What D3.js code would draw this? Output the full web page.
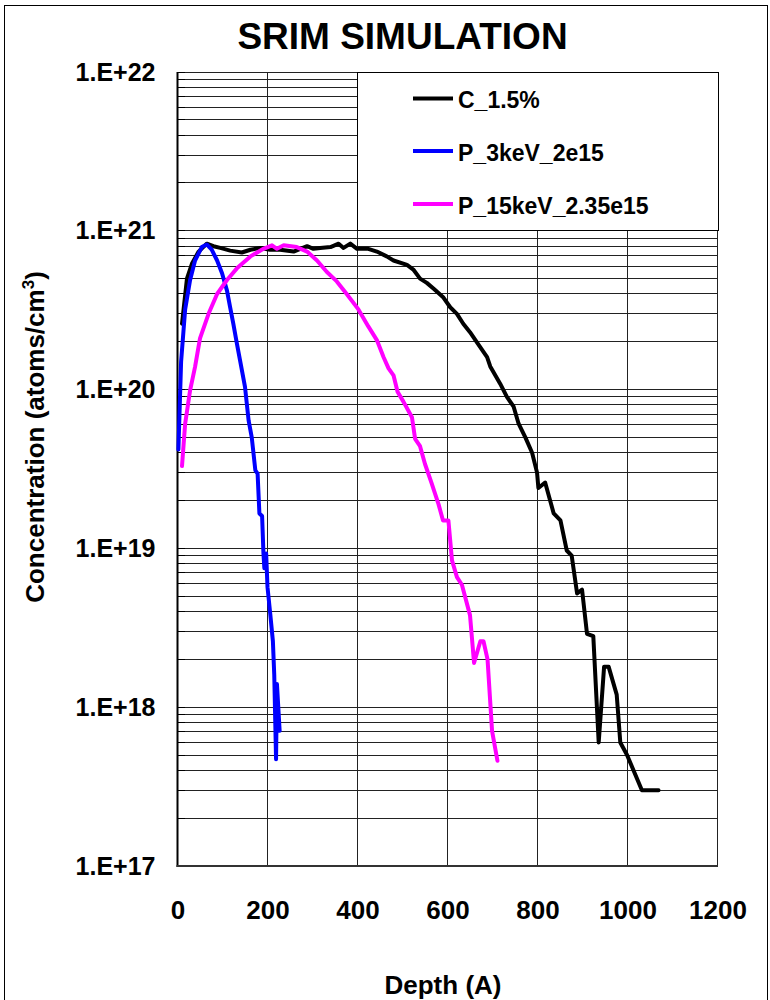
<!DOCTYPE html>
<html>
<head>
<meta charset="utf-8">
<script src="https://cdn.jsdelivr.net/npm/d3@7"></script>
<style>
  body { margin: 0; background: #fff; }
  svg { display: block; }
  text { font-family: Arial, "Liberation Sans", sans-serif; font-weight: bold; fill: #000; }
</style>
</head>
<body>
<svg id="chart" width="770" height="1000"></svg>
<script>
// SRIM depth profiles: depth in Angstrom, concentration in atoms/cm3
const cDepth = [10, 21, 32, 47, 65, 80, 95, 117, 143, 162, 184, 206, 228, 258, 288, 302, 317, 340, 358, 369, 384, 399, 424, 443, 465, 480, 510, 524, 539, 554, 570, 591, 606, 621, 635, 650, 670, 688, 695, 717, 732, 747, 758, 773, 788, 799, 802, 817, 836, 851, 865, 876, 888, 899, 910, 924, 936, 948, 958, 976, 984, 999, 1032, 1069];
const cConc = [2.6e20, 5.0e20, 6.2e20, 7.4e20, 8.3e20, 8.0e20, 7.8e20, 7.5e20, 7.3e20, 7.6e20, 7.8e20, 7.6e20, 7.6e20, 7.4e20, 8.0e20, 7.7e20, 7.8e20, 7.9e20, 8.3e20, 7.8e20, 8.3e20, 7.7e20, 7.7e20, 7.4e20, 6.9e20, 6.5e20, 6.1e20, 5.7e20, 5.0e20, 4.7e20, 4.3e20, 3.8e20, 3.3e20, 3.0e20, 2.6e20, 2.3e20, 1.9e20, 1.6e20, 1.4e20, 1.09e20, 9.0e19, 7.8e19, 6.1e19, 5.0e19, 4.0e19, 3.0e19, 2.4e19, 2.6e19, 1.66e19, 1.5e19, 9.7e18, 9.0e18, 5.2e18, 5.5e18, 2.9e18, 2.8e18, 6.0e17, 1.8e18, 1.8e18, 1.2e18, 6.0e17, 5.0e17, 3.0e17, 3.0e17];

const p3Depth = [2, 8, 17, 28, 39, 54, 65, 76, 88, 99, 110, 117, 124, 132, 139, 150, 158, 165, 173, 178, 182, 188, 191, 193, 197, 200, 206, 212, 215, 219, 221, 227];
const p3Conc = [4.2e19, 1.5e20, 3.2e20, 4.9e20, 6.5e20, 7.9e20, 8.2e20, 7.6e20, 6.5e20, 5.4e20, 4.2e20, 3.3e20, 2.6e20, 1.95e20, 1.53e20, 1.04e20, 6.4e19, 5.0e19, 3.1e19, 2.96e19, 1.66e19, 1.6e19, 9.3e18, 7.5e18, 9.3e18, 5.7e18, 3.9e18, 2.6e18, 1.6e18, 4.7e17, 1.4e18, 7.1e17];

const p15Depth = [10, 17, 28, 39, 50, 69, 88, 110, 132, 162, 191, 210, 221, 236, 265, 288, 310, 332, 354, 376, 402, 424, 443, 458, 469, 480, 489, 502, 521, 528, 539, 550, 565, 580, 590, 602, 610, 621, 632, 650, 659, 673, 680, 689, 699, 711];
const p15Conc = [3.3e19, 6.1e19, 9.9e19, 1.39e20, 2.1e20, 3.0e20, 4.0e20, 4.9e20, 5.8e20, 6.9e20, 7.7e20, 8.1e20, 7.7e20, 8.1e20, 7.9e20, 7.4e20, 6.5e20, 5.5e20, 4.8e20, 4.0e20, 3.2e20, 2.5e20, 2.05e20, 1.6e20, 1.36e20, 1.23e20, 9.7e19, 8.4e19, 6.7e19, 4.9e19, 4.4e19, 3.4e19, 2.56e19, 1.9e19, 1.5e19, 1.5e19, 8.4e18, 6.6e18, 5.9e18, 3.8e18, 1.9e18, 2.6e18, 2.6e18, 2.0e18, 7.1e17, 4.6e17];

const seriesNames = ["C_1.5%", "P_3keV_2e15", "P_15keV_2.35e15"];
const seriesColors = ["#000000", "#0000ff", "#ff00ff"];

const xTicks = [0, 200, 400, 600, 800, 1000, 1200];
const yTicks = [1e17, 1e18, 1e19, 1e20, 1e21, 1e22];
const yTickLabels = ["1.E+17", "1.E+18", "1.E+19", "1.E+20", "1.E+21", "1.E+22"];

const svg = d3.select("#chart");

// outer chart frame
svg.append("rect")
  .attr("x", 4.5).attr("y", 5.5)
  .attr("width", 763).attr("height", 1010)
  .attr("fill", "none").attr("stroke", "#000").attr("stroke-width", 1);

const x = d3.scaleLinear().domain([0, 1200]).range([177.5, 717.5]);
const y = d3.scaleLog().domain([1e17, 1e22]).range([866, 72]);

// minor/major log gridlines
const gridVals = [];
for (let e = 17; e < 22; e++) {
  for (let m = 1; m <= 9; m++) gridVals.push(m * Math.pow(10, e));
}
gridVals.push(1e22);

const grid = svg.append("g").attr("shape-rendering", "crispEdges");
grid.selectAll("line.h").data(gridVals).join("line")
  .attr("class", "h")
  .attr("x1", x(0)).attr("x2", x(1200))
  .attr("y1", d => y(d)).attr("y2", d => y(d))
  .attr("stroke", "#222").attr("stroke-width", 1);
grid.selectAll("line.v").data(xTicks.slice(1)).join("line")
  .attr("class", "v")
  .attr("x1", d => x(d)).attr("x2", d => x(d))
  .attr("y1", y(1e22)).attr("y2", y(1e17))
  .attr("stroke", "#222").attr("stroke-width", 1);

// short inside ticks on the value axis
grid.selectAll("line.t").data(gridVals).join("line")
  .attr("class", "t")
  .attr("x1", x(0)).attr("x2", x(0) + 7)
  .attr("y1", d => y(d)).attr("y2", d => y(d))
  .attr("stroke", "#000").attr("stroke-width", 1);

// axis lines
svg.append("line")
  .attr("x1", x(0)).attr("x2", x(0))
  .attr("y1", y(1e22)).attr("y2", y(1e17) + 1)
  .attr("stroke", "#000").attr("stroke-width", 2);
svg.append("line")
  .attr("x1", x(0) - 1).attr("x2", x(1200))
  .attr("y1", y(1e17)).attr("y2", y(1e17))
  .attr("stroke", "#333").attr("stroke-width", 2);

// axes labels via d3 axes
const yAxis = d3.axisLeft(y)
  .tickValues(yTicks)
  .tickFormat((d, i) => yTickLabels[i])
  .tickSize(0).tickPadding(22);
const gy = svg.append("g").attr("transform", `translate(${x(0)},0)`).call(yAxis);
gy.select(".domain").remove();
gy.selectAll("text")
  .attr("font-size", 25).attr("font-family", "Arial, 'Liberation Sans', sans-serif")
  .attr("font-weight", "bold").attr("fill", "#000");

const xAxis = d3.axisBottom(x)
  .tickValues(xTicks)
  .tickFormat(d3.format("d"))
  .tickSize(0).tickPadding(35);
const gx = svg.append("g").attr("transform", `translate(0,${y(1e17)})`).call(xAxis);
gx.select(".domain").remove();
gx.selectAll("text")
  .attr("font-size", 26).attr("font-family", "Arial, 'Liberation Sans', sans-serif")
  .attr("font-weight", "bold").attr("fill", "#000");

// curves
const line = d3.line()
  .x(d => x(d[0]))
  .y(d => y(d[1]));

const series = [
  { name: seriesNames[0], color: seriesColors[0], pts: d3.zip(cDepth, cConc) },
  { name: seriesNames[1], color: seriesColors[1], pts: d3.zip(p3Depth, p3Conc) },
  { name: seriesNames[2], color: seriesColors[2], pts: d3.zip(p15Depth, p15Conc) }
];

svg.append("g").selectAll("path").data(series).join("path")
  .attr("d", d => line(d.pts))
  .attr("fill", "none")
  .attr("stroke", d => d.color)
  .attr("stroke-width", 4)
  .attr("stroke-linejoin", "round")
  .attr("stroke-linecap", "round");

// legend
const lg = svg.append("g");
lg.append("rect")
  .attr("x", 357.5).attr("y", 72.5)
  .attr("width", 361).attr("height", 158)
  .attr("fill", "#fff").attr("stroke", "#000").attr("stroke-width", 1);
const legendY = [98.5, 151, 204];
series.forEach((s, i) => {
  lg.append("line")
    .attr("x1", 413).attr("x2", 453)
    .attr("y1", legendY[i]).attr("y2", legendY[i])
    .attr("stroke", s.color).attr("stroke-width", 4);
  lg.append("text")
    .attr("x", 458).attr("y", legendY[i] + 9.5)
    .attr("font-size", 23)
    .text(s.name);
});

// title
svg.append("text")
  .attr("x", 402.5).attr("y", 48.5)
  .attr("text-anchor", "middle")
  .attr("font-size", 37)
  .text("SRIM SIMULATION");

// axis titles
svg.append("text")
  .attr("x", 443).attr("y", 994)
  .attr("text-anchor", "middle")
  .attr("font-size", 26)
  .text("Depth (A)");

const yl = svg.append("text")
  .attr("transform", "translate(44,437) rotate(-90)")
  .attr("text-anchor", "middle")
  .attr("font-size", 26);
yl.append("tspan").text("Concentration (atoms/cm");
yl.append("tspan").attr("font-size", 17).attr("dy", -10).text("3");
yl.append("tspan").attr("dy", 10).text(")");
</script>
</body>
</html>
